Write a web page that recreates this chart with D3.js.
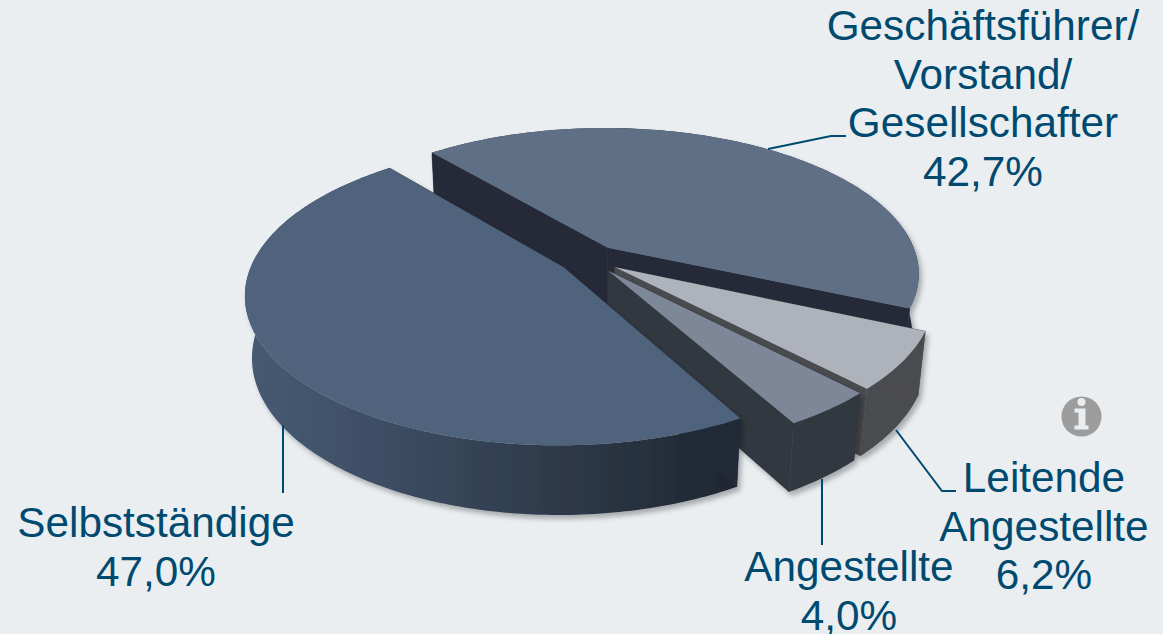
<!DOCTYPE html>
<html>
  <head>
    <meta charset="UTF-8">
    <title>Berufliche Stellung</title>
    <style>
    html, body {
      margin: 0;
      background-color: #eaeef1;
    }
    svg {
      display: block;
    }
    text {
      font-family: 'Liberation Sans', Arial, sans-serif;
      font-size: 42.3px;
      fill: #004a70;
      text-anchor: middle;
    }
    .leader {
      fill: none;
      stroke: #004a70;
      stroke-width: 2;
    }
    </style>
  </head>

  <body>
  <script src="https://d3js.org/d3.v7.min.js"></script>
  <script>
  // Chart data
  var categories = ['Geschäftsführer/ Vorstand/ Gesellschafter', 'Leitende Angestellte', 'Angestellte', 'Selbstständige'];
  var values = [42.7, 6.2, 4.0, 47.0];

  var topColors = ['#5f7086', '#aeb2bb', '#7e8797', '#4f637c'];
  var wallColors = ['#252c37', '#4a4b50', '#33373f', '#232b38'];
  var rimColors = ['#252c37', '#4a4b50', '#33373f', 'url(#rimGradient)'];

  var width = 1163, height = 634;
  var svg = d3.select('body').append('svg').attr('width', width).attr('height', height);

  // Perspective of the pie plane
  var centerX = 589.5, centerY = 259;
  var radiusX = 310, radiusY = 144;
  var tilt = 0.1734;        // how fast things grow towards the viewer
  var thickness = 62;
  var bottomShrink = 0.02;
  var explode = 0.1;

  function project(u, v, down) {
    var w = 1 - tilt * v + (down ? bottomShrink : 0);
    return [centerX + radiusX * u / w, centerY + (radiusY * v + (down ? thickness : 0)) / w];
  }
  // Point of an exploded slice: radius r at the given angle
  function slicePoint(d, angle, r, down) {
    var mid = (d.startAngle + d.endAngle) / 2;
    return project(explode * Math.sin(mid) + r * Math.sin(angle), -explode * Math.cos(mid) - r * Math.cos(angle), down);
  }
  function arcPoints(d, down) {
    var n = Math.ceil((d.endAngle - d.startAngle) * 60);
    return d3.range(n + 1).map(function (i) {
      return slicePoint(d, d.startAngle + (d.endAngle - d.startAngle) * i / n, 1, down);
    });
  }

  var line = d3.line();
  var pie = d3.pie().sort(null)
    .startAngle(-40 * Math.PI / 180)
    .endAngle(320 * Math.PI / 180);

  // Defs: rim shading and the soft shadow under the pie
  var defs = svg.append('defs');
  var gradient = defs.append('linearGradient')
    .attr('id', 'rimGradient')
    .attr('gradientUnits', 'userSpaceOnUse')
    .attr('x1', 250).attr('x2', 740).attr('y1', 0).attr('y2', 0);
  gradient.append('stop').attr('offset', '0').attr('stop-color', '#465a72');
  gradient.append('stop').attr('offset', '0.3').attr('stop-color', '#3c4c62');
  gradient.append('stop').attr('offset', '0.6').attr('stop-color', '#2f3b4c');
  gradient.append('stop').attr('offset', '0.9').attr('stop-color', '#232b37');
  gradient.append('stop').attr('offset', '1').attr('stop-color', '#1f2630');

  var shadow = defs.append('filter').attr('id', 'softShadow')
    .attr('x', '-10%').attr('y', '-10%').attr('width', '120%').attr('height', '120%');
  shadow.append('feDropShadow')
    .attr('dx', 3).attr('dy', 4).attr('stdDeviation', 2.5)
    .attr('flood-color', '#000').attr('flood-opacity', 0.28);

  // Slices go back to front, in data order
  var slices = svg.selectAll('g.slice')
    .data(pie(values))
    .enter()
    .append('g')
    .attr('class', 'slice')
    .attr('filter', 'url(#softShadow)');

  // Outer rim
  slices.append('path')
    .attr('fill', function (d, i) { return rimColors[i]; })
    .attr('d', function (d) {
      return line(arcPoints(d, false).concat(arcPoints(d, true).reverse())) + 'Z';
    });

  // Cut walls at both ends of the slice
  slices.each(function (d, i) {
    var g = d3.select(this);
    [d.startAngle, d.endAngle].forEach(function (a) {
      g.append('path')
        .attr('fill', wallColors[i])
        .attr('stroke', wallColors[i])
        .attr('stroke-width', 0.6)
        .attr('d', line([slicePoint(d, a, 0, false), slicePoint(d, a, 1, false), slicePoint(d, a, 1, true), slicePoint(d, a, 0, true)]) + 'Z');
    });
  });

  // Top face
  slices.append('path')
    .attr('fill', function (d, i) { return topColors[i]; })
    .attr('d', function (d) {
      return line([slicePoint(d, 0, 0, false)].concat(arcPoints(d, false))) + 'Z';
    });

  // Leader lines
  function leader(points) {
    svg.append('path').attr('class', 'leader').attr('d', line(points));
  }
  leader([[768, 149], [831, 136], [846, 136]]);
  leader([[896, 430], [942, 491], [956, 491]]);
  leader([[822, 479], [822, 545]]);
  leader([[283, 425], [283, 493]]);

  // Labels
  function percent(v) {
    return v.toFixed(1).replace('.', ',') + '%';
  }
  function label(x, y, lines) {
    var text = svg.append('text').attr('x', x).attr('y', y);
    lines.forEach(function (s, i) {
      text.append('tspan').attr('x', x).attr('dy', i ? 48.7 : 0).text(s);
    });
  }
  label(983, 40, categories[0].split(' ').concat(percent(values[0])));
  label(1044, 492, categories[1].split(' ').concat(percent(values[1])));
  label(849, 581, [categories[2], percent(values[2])]);
  label(156, 537, [categories[3], percent(values[3])]);

  // Info icon
  var info = svg.append('g').attr('transform', 'translate(1081.5,416.5)');
  info.append('circle').attr('r', 20).attr('fill', '#9c9c9c');
  info.append('circle').attr('cy', -14.5).attr('r', 4).attr('fill', '#eaeef1');
  info.append('path').attr('fill', '#eaeef1')
    .attr('d', 'M-7,-8H4V9H7V13H-7V9H-3V-4H-7Z');
  </script>
  </body>
</html>
